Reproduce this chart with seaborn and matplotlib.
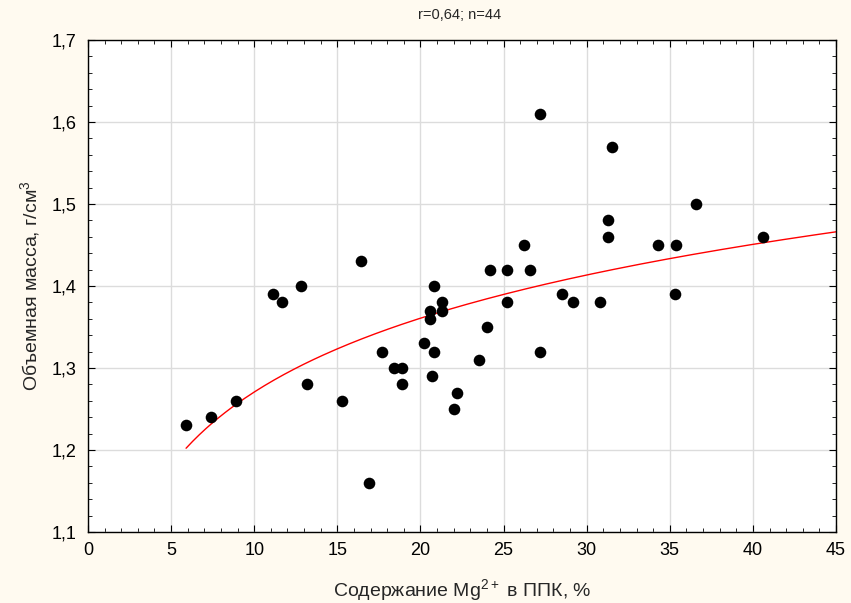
import numpy as np
import pandas as pd
import matplotlib.pyplot as plt
import seaborn as sns
from matplotlib.ticker import FuncFormatter, MultipleLocator

# Mg2+ content (%) and bulk density (g/cm3)
mg = [5.9, 7.4, 8.9, 11.1, 11.7, 12.8, 13.2, 15.3, 16.4, 16.9,
      17.7, 18.4, 18.9, 18.9, 20.2, 20.6, 20.6, 20.8, 20.7, 20.8,
      21.3, 21.3, 22.0, 22.2, 27.2, 31.5, 36.6, 31.3, 31.3, 40.6,
      26.2, 34.3, 35.4, 24.2, 25.2, 26.6, 24.0, 25.2, 28.5, 29.2,
      30.8, 35.3, 23.5, 27.2]
density = [1.23, 1.24, 1.26, 1.39, 1.38, 1.40, 1.28, 1.26, 1.43, 1.16,
           1.32, 1.30, 1.30, 1.28, 1.33, 1.37, 1.36, 1.40, 1.29, 1.32,
           1.38, 1.37, 1.25, 1.27, 1.61, 1.57, 1.50, 1.48, 1.46, 1.46,
           1.45, 1.45, 1.45, 1.42, 1.42, 1.42, 1.35, 1.38, 1.39, 1.38,
           1.38, 1.39, 1.31, 1.32]

df = pd.DataFrame({'mg': mg, 'density': density})

# logarithmic fit y = a + b*ln(x)
b, a = np.polyfit(np.log(df['mg']), df['density'], 1)
x_fit = np.linspace(df['mg'].min(), 45, 200)
fit = pd.DataFrame({'mg': x_fit, 'density': a + b * np.log(x_fit)})

sns.set_style('ticks')
plt.rcParams['font.family'] = ['Liberation Sans', 'DejaVu Sans']
plt.rcParams['mathtext.default'] = 'regular'

fig = plt.figure(figsize=(8.51, 6.03), dpi=100, facecolor='#fffaf0')
ax = fig.add_axes([0.1034, 0.1177, 0.8790, 0.8160])
ax.set_facecolor('white')

sns.lineplot(data=fit, x='mg', y='density', color='red', linewidth=1.0, ax=ax, zorder=2)
sns.scatterplot(data=df, x='mg', y='density', color='black', s=70, edgecolor='black',
                linewidth=0, ax=ax, zorder=3)

ax.set_xlim(0, 45)
ax.set_ylim(1.1, 1.7)
ax.xaxis.set_major_locator(MultipleLocator(5))
ax.xaxis.set_minor_locator(MultipleLocator(1))
ax.yaxis.set_major_locator(MultipleLocator(0.1))
ax.yaxis.set_minor_locator(MultipleLocator(0.02))
ax.yaxis.set_major_formatter(FuncFormatter(lambda v, p: f'{v:.1f}'.replace('.', ',')))
ax.grid(True, which='major', color='#dcdcdc', linewidth=1.0)
ax.set_axisbelow(True)
ax.tick_params(which='both', direction='in', top=True, right=True, colors='black')
ax.tick_params(which='major', length=5, labelsize=13)
ax.tick_params(which='minor', length=3)
ax.tick_params(axis='x', which='major', pad=7)
ax.tick_params(axis='y', which='major', pad=8.5)
for sp in ax.spines.values():
    sp.set_color('black')
    sp.set_linewidth(1.0)

ax.set_xlabel('Содержание Mg$^{2+}$ в ППК, %', fontsize=14)
ax.set_ylabel('Объемная масса, г/см$^3$', fontsize=14)
ax.xaxis.set_label_coords(0.5, -0.092)
ax.yaxis.set_label_coords(-0.062, 0.5)
fig.text(0.54, 0.975, 'r=0,64; n=44', ha='center', va='center', fontsize=10.5)

fig.savefig('out.png', dpi=100, facecolor=fig.get_facecolor())
